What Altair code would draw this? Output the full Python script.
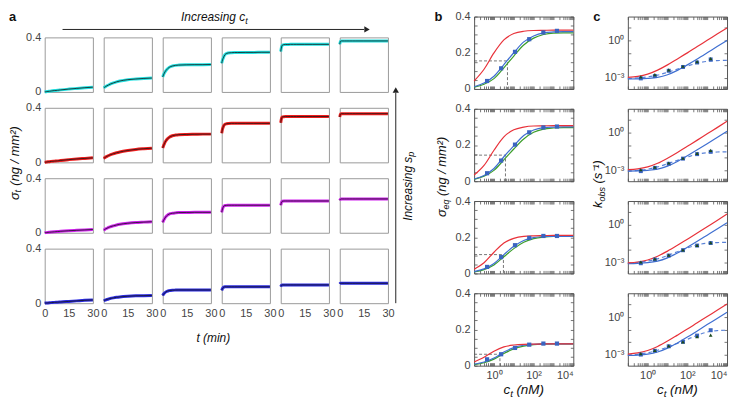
import altair as alt
import pandas as pd

FONT = "Liberation Sans"
ONE = pd.DataFrame({"k": [0]})

# ---------------- panel a: kinetic traces (sigma_t vs t) ----------------
T_MIN = [0, 0.5, 1, 2, 3, 4, 6, 8, 10, 15, 20, 25, 30]

A_ROW1 = [
    [0, 0.001, 0.002, 0.004, 0.005, 0.007, 0.010, 0.012, 0.015, 0.021, 0.026, 0.031, 0.035],
    [0.030, 0.034, 0.038, 0.045, 0.051, 0.057, 0.066, 0.074, 0.080, 0.090, 0.095, 0.099, 0.102],
    [0.110, 0.125, 0.138, 0.157, 0.170, 0.180, 0.190, 0.195, 0.197, 0.199, 0.200, 0.200, 0.201],
    [0.210, 0.235, 0.250, 0.273, 0.282, 0.286, 0.288, 0.289, 0.289, 0.290, 0.290, 0.291, 0.291],
    [0.296, 0.330, 0.343, 0.347, 0.348, 0.348, 0.349, 0.349, 0.349, 0.349, 0.349, 0.349, 0.349],
    [0.349, 0.372, 0.374, 0.374, 0.374, 0.374, 0.374, 0.374, 0.374, 0.374, 0.374, 0.374, 0.374],
]
A_ROW2 = [
    [0, 0.001, 0.002, 0.004, 0.005, 0.007, 0.009, 0.011, 0.014, 0.020, 0.025, 0.029, 0.033],
    [0.029, 0.033, 0.037, 0.044, 0.050, 0.055, 0.063, 0.070, 0.076, 0.087, 0.095, 0.100, 0.104],
    [0.105, 0.122, 0.136, 0.158, 0.173, 0.183, 0.195, 0.200, 0.203, 0.205, 0.206, 0.207, 0.207],
    [0.214, 0.245, 0.262, 0.279, 0.283, 0.285, 0.286, 0.286, 0.286, 0.286, 0.286, 0.286, 0.286],
    [0.290, 0.324, 0.333, 0.335, 0.336, 0.336, 0.336, 0.336, 0.336, 0.336, 0.336, 0.336, 0.336],
    [0.333, 0.355, 0.357, 0.357, 0.357, 0.357, 0.357, 0.357, 0.357, 0.357, 0.357, 0.357, 0.357],
]
A_ROW3 = [
    [0, 0.001, 0.001, 0.003, 0.004, 0.005, 0.007, 0.009, 0.011, 0.015, 0.018, 0.021, 0.024],
    [0.019, 0.023, 0.027, 0.033, 0.039, 0.044, 0.051, 0.057, 0.062, 0.070, 0.075, 0.078, 0.081],
    [0.076, 0.090, 0.100, 0.118, 0.130, 0.137, 0.143, 0.146, 0.148, 0.149, 0.150, 0.150, 0.150],
    [0.150, 0.175, 0.190, 0.200, 0.201, 0.202, 0.202, 0.202, 0.202, 0.202, 0.202, 0.202, 0.202],
    [0.202, 0.224, 0.231, 0.233, 0.233, 0.233, 0.233, 0.233, 0.233, 0.233, 0.233, 0.233, 0.233],
    [0.238, 0.247, 0.248, 0.248, 0.248, 0.248, 0.248, 0.248, 0.248, 0.248, 0.248, 0.248, 0.248],
]
A_ROW4 = [
    [0, 0.001, 0.001, 0.002, 0.003, 0.004, 0.006, 0.007, 0.009, 0.013, 0.017, 0.021, 0.024],
    [0.019, 0.021, 0.023, 0.027, 0.031, 0.034, 0.039, 0.043, 0.046, 0.051, 0.054, 0.055, 0.056],
    [0.056, 0.066, 0.073, 0.083, 0.089, 0.092, 0.095, 0.096, 0.097, 0.097, 0.097, 0.097, 0.097],
    [0.094, 0.108, 0.115, 0.120, 0.120, 0.120, 0.120, 0.120, 0.120, 0.120, 0.120, 0.120, 0.120],
    [0.122, 0.132, 0.134, 0.134, 0.134, 0.134, 0.134, 0.134, 0.134, 0.134, 0.134, 0.134, 0.134],
    [0.141, 0.146, 0.146, 0.146, 0.146, 0.146, 0.146, 0.146, 0.146, 0.146, 0.146, 0.146, 0.146],
]
A_DATA = [A_ROW1, A_ROW2, A_ROW3, A_ROW4]
A_COLORS = ["#22e0e0", "#f01c1c", "#d022ee", "#2a2ae0"]

# ---------------- panel b: equilibrium isotherms ----------------
CT_CURVE = [0.1, 0.316, 1, 3.16, 10, 31.6, 100, 316, 1000, 3162, 10000]
CT_POINTS = [0.45, 2.3, 11.5, 60, 310, 1500]

B_RED = [
    [0.044, 0.109, 0.199, 0.271, 0.306, 0.319, 0.323, 0.324, 0.325, 0.325, 0.325],
    [0.034, 0.087, 0.171, 0.245, 0.284, 0.299, 0.305, 0.306, 0.307, 0.307, 0.307],
    [0.023, 0.059, 0.117, 0.168, 0.194, 0.205, 0.208, 0.209, 0.210, 0.210, 0.210],
    [0.020, 0.046, 0.080, 0.104, 0.114, 0.118, 0.119, 0.120, 0.120, 0.120, 0.120],
]
B_BLUE = [
    [0.012, 0.033, 0.070, 0.135, 0.200, 0.260, 0.293, 0.310, 0.315, 0.317, 0.317],
    [0.012, 0.032, 0.070, 0.135, 0.195, 0.252, 0.283, 0.296, 0.299, 0.300, 0.300],
    [0.010, 0.025, 0.055, 0.104, 0.150, 0.182, 0.198, 0.204, 0.205, 0.205, 0.205],
    [0.008, 0.020, 0.042, 0.075, 0.100, 0.113, 0.118, 0.120, 0.120, 0.120, 0.120],
]
B_GREEN = [
    [0.010, 0.026, 0.057, 0.117, 0.182, 0.243, 0.281, 0.301, 0.309, 0.310, 0.310],
    [0.010, 0.028, 0.060, 0.118, 0.178, 0.233, 0.270, 0.288, 0.294, 0.296, 0.296],
    [0.008, 0.021, 0.047, 0.092, 0.137, 0.172, 0.192, 0.201, 0.204, 0.204, 0.204],
    [0.006, 0.016, 0.036, 0.067, 0.093, 0.108, 0.116, 0.119, 0.120, 0.120, 0.120],
]
B_SQUARES = [
    [0.044, 0.114, 0.205, 0.275, 0.312, 0.321],
    [0.044, 0.114, 0.202, 0.270, 0.297, 0.302],
    [0.036, 0.090, 0.156, 0.196, 0.207, 0.207],
    [0.035, 0.063, 0.098, 0.116, 0.122, 0.122],
]
B_GUIDE_CT = [4.8, 3.8, 3.0, 2.0]
B_GUIDE_SIGMA = [0.155, 0.144, 0.104, 0.063]

# ---------------- panel c: observed rate constants ----------------
C_RED = [
    [1.1e-3, 1.32e-3, 2.0e-3, 4.2e-3, 1.1e-2, 3.3e-2, 0.10, 0.32, 1.0, 3.2, 10.0],
    [1.08e-3, 1.25e-3, 1.8e-3, 3.5e-3, 9.0e-3, 2.6e-2, 8.1e-2, 0.25, 0.80, 2.5, 8.0],
    [9.2e-4, 1.07e-3, 1.55e-3, 3.1e-3, 7.9e-3, 2.3e-2, 7.1e-2, 0.22, 0.70, 2.2, 7.2],
    [1.1e-3, 1.35e-3, 2.1e-3, 4.5e-3, 1.2e-2, 3.6e-2, 0.11, 0.35, 1.1, 3.5, 11.0],
]
C_BLUE = [
    [8.1e-4, 8.3e-4, 9.0e-4, 1.1e-3, 1.8e-3, 4.0e-3, 1.1e-2, 3.2e-2, 0.10, 0.32, 1.0],
    [8.4e-4, 8.7e-4, 9.6e-4, 1.2e-3, 2.1e-3, 4.9e-3, 1.4e-2, 4.2e-2, 0.13, 0.41, 1.3],
    [8.0e-4, 8.4e-4, 9.4e-4, 1.26e-3, 2.3e-3, 5.5e-3, 1.6e-2, 4.8e-2, 0.15, 0.47, 1.5],
    [8.5e-4, 9.1e-4, 1.08e-3, 1.6e-3, 3.3e-3, 8.6e-3, 2.5e-2, 7.8e-2, 0.25, 0.78, 2.45],
]
C_DASH = [
    [8.9e-4, 1.0e-3, 1.2e-3, 1.66e-3, 2.8e-3, 5.0e-3, 8.9e-3, 1.5e-2, 2.1e-2, 2.4e-2, 2.5e-2],
    [8.5e-4, 9.5e-4, 1.2e-3, 1.8e-3, 3.2e-3, 6.0e-3, 1.1e-2, 1.9e-2, 2.5e-2, 2.8e-2, 2.9e-2],
    [8.3e-4, 1.0e-3, 1.26e-3, 1.9e-3, 3.5e-3, 7.1e-3, 1.4e-2, 2.5e-2, 3.4e-2, 3.8e-2, 4.0e-2],
    [8.9e-4, 1.05e-3, 1.4e-3, 2.2e-3, 4.0e-3, 7.9e-3, 1.66e-2, 3.5e-2, 6.3e-2, 8.3e-2, 8.9e-2],
]
C_SQUARES = [
    [9.1e-4, 1.4e-3, 3.7e-3, 7.4e-3, 1.7e-2, 3.0e-2],
    [8.3e-4, 1.5e-3, 3.2e-3, 8.3e-3, 1.9e-2, 2.9e-2],
    [8.5e-4, 1.66e-3, 3.5e-3, 9.3e-3, 2.2e-2, 3.5e-2],
    [1.0e-3, 2.0e-3, 4.6e-3, 1.05e-2, 3.3e-2, 8.9e-2],
]
C_TRIANGLES = [
    [1.2e-3, 1.8e-3, 4.4e-3, 8.5e-3, 2.0e-2, 3.4e-2],
    [1.07e-3, 1.74e-3, 3.7e-3, 8.9e-3, 2.2e-2, 3.8e-2],
    [1.07e-3, 1.9e-3, 3.8e-3, 1.0e-2, 2.3e-2, 3.8e-2],
    [1.2e-3, 2.2e-3, 5.0e-3, 1.05e-2, 2.75e-2, 3.6e-2],
]

RED = "#e8323a"
BLUE = "#3f6fd1"
GREEN = "#3c9e2c"
DASHBLUE = "#5a82d8"
SQ = "#3a64c0"
TRI = "#1d4a1d"
LABEL = "#444444"
TICK = "#555555"

LOG_TICKS = [m * 10.0 ** e for e in range(-1, 4) for m in range(1, 10)] + [10000.0]
B_YTICKS = [0, 0.05, 0.1, 0.15, 0.2, 0.25, 0.3, 0.35, 0.4]
C_YTICKS = [0.001, 0.01, 0.1, 1, 10]
INWARD = alt.ExprRef(expr="-3")


def label(text, x, y, size=12, angle=0, align="left", baseline="alphabetic",
          italic=False, bold=False, color="#111111"):
    kw = dict(text=text, font=FONT, fontSize=size, align=align, baseline=baseline, color=color)
    if angle:
        kw["angle"] = angle
    if italic:
        kw["fontStyle"] = "italic"
    if bold:
        kw["fontWeight"] = "bold"
    return alt.Chart(ONE).mark_text(**kw).encode(x=alt.value(x), y=alt.value(y))


def hrule(x1, x2, y):
    return alt.Chart(ONE).mark_rule(color="#222222", strokeWidth=1).encode(
        x=alt.value(x1), x2=alt.value(x2), y=alt.value(y))


def vrule(x, y1, y2):
    return alt.Chart(ONE).mark_rule(color="#222222", strokeWidth=1).encode(
        x=alt.value(x), y=alt.value(y1), y2=alt.value(y2))


def head(x, y, shape):
    return alt.Chart(ONE).mark_point(shape=shape, filled=True, size=40, color="#222222",
                                     opacity=1).encode(x=alt.value(x), y=alt.value(y))


# ---------------- build panel a ----------------
AW, AH = 48.6, 55
ASP = 10.5
A_TOTAL_W = 6 * AW + 5 * ASP


def a_panel(r, c):
    df = pd.DataFrame({"t": T_MIN, "s": A_DATA[r][c]})
    xax = alt.Axis(values=[0, 15, 30], labels=(r == 3), ticks=False, domain=False, grid=False,
                   title=None, labelFont=FONT, labelFontSize=11, labelColor=LABEL,
                   labelPadding=4, labelFlush=False, labelOverlap=False)
    yax = alt.Axis(values=[0, 0.4], labels=(c == 0), ticks=False, domain=False, grid=False,
                   title=None, format="~g", labelFont=FONT, labelFontSize=11, labelColor=LABEL,
                   labelPadding=4, labelOverlap=False)
    enc = dict(
        x=alt.X("t:Q", scale=alt.Scale(domain=[0, 30], nice=False, zero=False), axis=xax),
        y=alt.Y("s:Q", scale=alt.Scale(domain=[0, 0.4], nice=False), axis=yax),
    )
    layers = [
        alt.Chart(df).mark_line(color=A_COLORS[r], strokeWidth=3, interpolate="monotone").encode(**enc),
        alt.Chart(df).mark_line(color="#151515", strokeWidth=0.8, interpolate="monotone").encode(**enc),
    ]
    if r == 0 and c == 0:
        layers += [
            label("σ", -30, 164, size=13, angle=270, baseline="middle", italic=True),
            label("t", -26.5, 156.5, size=9, angle=270, baseline="middle", italic=True),
            label("(ng / mm²)", -30, 149.5, size=13, angle=270, baseline="middle", italic=True),
            vrule(354, 268, 56),
            head(354, 53, "triangle-up"),
            label("Increasing s", 366, 185, size=12, angle=270, baseline="middle", italic=True),
            label("p", 369.5, 120.3, size=9, angle=270, baseline="middle", italic=True),
        ]
    if r == 3 and c == 0:
        layers.append(label("t (min)", 170, 94, size=12, italic=True, align="center"))
    return alt.layer(*layers).properties(
        width=AW, height=AH, view=alt.ViewBackground(stroke="#9a9a9a", strokeWidth=1))


a_panels = [a_panel(r, c) for r in range(4) for c in range(6)]
A_GRID = alt.concat(*a_panels, columns=6, spacing={"row": 16, "column": ASP}, bounds="flush")

annot = alt.layer(
    label("a", -36, -6, size=13, bold=True, baseline="top"),
    label("Increasing c", 137.5, 4, size=12, italic=True),
    label("t", 202.2, 7, size=9, italic=True),
    hrule(18, 322, 13),
    head(325, 13, "triangle-right"),
).properties(width=A_TOTAL_W, height=16, view=alt.ViewBackground(stroke="transparent"))

A = alt.vconcat(annot, A_GRID, spacing=5, bounds="flush")

# ---------------- build panels b and c ----------------
BW, BH = 100, 73
XLOG = alt.Scale(type="log", domain=[0.1, 10000], nice=False)
LOG_LABELS = "datum.value == 1 ? '10⁰' : datum.value == 100 ? '10²' : datum.value == 10000 ? '10⁴' : ''"


def tick_axis(values, orient, show=False, expr=None, fmt=None, pad=7, flush=False):
    kw = dict(values=values, orient=orient, labels=show, tickSize=INWARD, tickColor=TICK,
              tickWidth=0.8, domain=False, grid=False, title=None, labelFont=FONT,
              labelFontSize=11, labelColor=LABEL, labelPadding=pad, labelOverlap=False,
              labelFlush=flush)
    if expr:
        kw["labelExpr"] = expr
    if fmt:
        kw["format"] = fmt
    return alt.Axis(**kw)


def ct_title():
    return [
        label("c", 29.5, 102, size=13.5, italic=True),
        label("t", 36.3, 105, size=10, italic=True),
        label("(nM)", 42.6, 102, size=13.5, italic=True),
    ]


def b_panel(i):
    ys = alt.Scale(domain=[0, 0.4], nice=False)
    x_main = alt.X("ct:Q", scale=XLOG, axis=tick_axis(LOG_TICKS, "bottom", i == 3, LOG_LABELS, pad=6.5, flush=True))
    y_main = alt.Y("s:Q", scale=ys, axis=tick_axis(
        B_YTICKS, "left", True,
        "datum.value == 0 || datum.value == 0.2 || datum.value == 0.4 ? datum.label : ''", fmt="~g"))
    x_top = alt.X("ct:Q", scale=XLOG, axis=tick_axis(LOG_TICKS, "top"))
    x_none = alt.X("ct:Q", scale=XLOG, axis=None)
    curves = pd.DataFrame({"ct": CT_CURVE, "red": B_RED[i], "blue": B_BLUE[i], "green": B_GREEN[i]})
    pts = pd.DataFrame({"ct": CT_POINTS, "s": B_SQUARES[i]})
    guide = pd.DataFrame({"ct": [0.1, B_GUIDE_CT[i], B_GUIDE_CT[i]],
                          "s": [B_GUIDE_SIGMA[i], B_GUIDE_SIGMA[i], 0], "o": [0, 1, 2]})
    layers = [
        alt.Chart(guide).mark_line(color="#555555", strokeDash=[3, 2], strokeWidth=0.8).encode(
            x=x_main, y=y_main, order=alt.Order("o:Q")),
        alt.Chart(curves).mark_line(color=GREEN, strokeWidth=1.2, interpolate="monotone").encode(
            x=x_top, y=alt.Y("green:Q", scale=ys, axis=tick_axis(B_YTICKS, "right"))),
        alt.Chart(curves).mark_line(color=BLUE, strokeWidth=1.2, interpolate="monotone").encode(
            x=x_none, y=alt.Y("blue:Q", scale=ys, axis=None)),
        alt.Chart(curves).mark_line(color=RED, strokeWidth=1.2, interpolate="monotone").encode(
            x=x_none, y=alt.Y("red:Q", scale=ys, axis=None)),
        alt.Chart(pts).mark_square(size=18, color=SQ, opacity=1).encode(
            x=x_none, y=alt.Y("s:Q", scale=ys, axis=None)),
    ]
    if i == 0:
        layers += [
            label("b", -40, -6, size=13, bold=True, baseline="top"),
            label("σ", -32, 202, size=13, angle=270, baseline="middle", italic=True),
            label("eq", -28.5, 194.5, size=9, angle=270, baseline="middle", italic=True),
            label("(ng / mm²)", -32, 180.9, size=13, angle=270, baseline="middle", italic=True),
        ]
    if i == 3:
        layers += ct_title()
    return alt.layer(*layers).resolve_axis(x="independent", y="independent").properties(
        width=BW, height=BH, view=alt.ViewBackground(stroke="#555555", strokeWidth=1))


def c_panel(i):
    ys = alt.Scale(type="log", domain=[1.3e-4, 80], nice=False)
    x_main = alt.X("ct:Q", scale=XLOG, axis=tick_axis(LOG_TICKS, "bottom", i == 3, LOG_LABELS, pad=6.5, flush=True))
    x_top = alt.X("ct:Q", scale=XLOG, axis=tick_axis(LOG_TICKS, "top"))
    x_none = alt.X("ct:Q", scale=XLOG, axis=None)
    curves = pd.DataFrame({"ct": CT_CURVE, "red": C_RED[i], "blue": C_BLUE[i], "dash": C_DASH[i]})
    pts = pd.DataFrame({"ct": CT_POINTS, "sq": C_SQUARES[i], "tri": C_TRIANGLES[i]})
    layers = [
        alt.Chart(curves).mark_line(color=DASHBLUE, strokeWidth=1.2, strokeDash=[4, 3],
                                    interpolate="monotone").encode(
            x=x_main, y=alt.Y("dash:Q", scale=ys, axis=tick_axis(
                C_YTICKS, "left", True, "datum.value == 1 ? '10⁰' : datum.value == 0.001 ? '10⁻³' : ''"))),
        alt.Chart(curves).mark_line(color=BLUE, strokeWidth=1.2, interpolate="monotone").encode(
            x=x_top, y=alt.Y("blue:Q", scale=ys, axis=tick_axis(C_YTICKS, "right"))),
        alt.Chart(curves).mark_line(color=RED, strokeWidth=1.2, interpolate="monotone").encode(
            x=x_none, y=alt.Y("red:Q", scale=ys, axis=None)),
        alt.Chart(pts).mark_square(size=16, color=SQ, opacity=1).encode(
            x=x_none, y=alt.Y("sq:Q", scale=ys, axis=None)),
        alt.Chart(pts).mark_point(shape="triangle-up", filled=True, size=14, color=TRI, opacity=1).encode(
            x=x_none, y=alt.Y("tri:Q", scale=ys, axis=None)),
    ]
    if i == 0:
        layers += [
            label("c", -35, -6, size=13, bold=True, baseline="top"),
            label("k", -30, 193, size=13, angle=270, baseline="middle", italic=True),
            label("obs", -26.5, 186.5, size=9, angle=270, baseline="middle", italic=True),
            label("(s⁻¹)", -30, 168.4, size=13, angle=270, baseline="middle", italic=True),
        ]
    if i == 3:
        layers += ct_title()
    return alt.layer(*layers).resolve_axis(x="independent", y="independent").properties(
        width=BW, height=BH, view=alt.ViewBackground(stroke="#555555", strokeWidth=1))


bc_panels = []
for i in range(4):
    bc_panels += [b_panel(i), c_panel(i)]
BC = alt.concat(*bc_panels, columns=2, spacing={"row": 20, "column": 55}, bounds="flush")

chart = alt.hconcat(A, BC, spacing=17).properties(padding=0, background="white").configure(font=FONT)

chart.save("out.html", embed_options={"renderer": "svg", "actions": False})
